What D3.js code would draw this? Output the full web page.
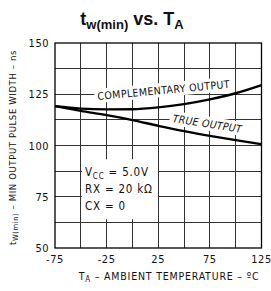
<!DOCTYPE html>
<html>
<head>
<meta charset="utf-8">
<script src="https://cdn.jsdelivr.net/npm/d3@7"></script>
<style>
  body { margin: 0; background: #fff; }
  text { font-family: "Liberation Sans Narrow", "DejaVu Sans Condensed", "Liberation Sans", Arial, sans-serif; fill: #111; }
  .title text, text.title { font-family: "Liberation Sans", Arial, sans-serif; font-weight: bold; }
</style>
</head>
<body>
<div class="chart"></div>
<script>
// tw(min) vs. TA

var temps = [-75, -50, -25, 0, 25, 50, 75, 100, 125];
var complementary = [119.2, 118.0, 117.6, 117.7, 118.6, 120.2, 122.5, 125.5, 129.5];
var trueOutput = [119.2, 116.9, 114.8, 112.4, 109.6, 107.0, 104.7, 102.6, 100.6];

var xTickLabels = [-75, -25, 25, 75, 125];
var yTickLabels = [150, 125, 100, 75, 50];
var xGrid = [-50, -25, 0, 25, 50, 75, 100];
var yGrid = [137.5, 125, 112.5, 100, 87.5, 75, 62.5];

var conditions = ["V|CC| = 5.0V", "RX = 20 k\u03A9", "CX = 0"];

var svgWidth = 271;
var svgHeight = 291;

var margin = { top: 43, bottom: 43, right: 9.5, left: 55 };
var width = svgWidth - margin.left - margin.right;
var height = svgHeight - margin.top - margin.bottom;

var svg = d3.select(".chart")
  .append("svg")
  .attr("width", svgWidth)
  .attr("height", svgHeight);

var chartGroup = svg.append("g")
  .attr("transform", `translate(${margin.left}, ${margin.top})`);

var xLinearScale = d3.scaleLinear().domain([-75, 125]).range([0, width]);
var yLinearScale = d3.scaleLinear().domain([50, 150]).range([height, 0]);

// grid
chartGroup.selectAll(".vgrid")
  .data(xGrid)
  .enter()
  .append("line")
  .attr("x1", d => xLinearScale(d))
  .attr("x2", d => xLinearScale(d))
  .attr("y1", 0)
  .attr("y2", height)
  .attr("stroke", "#333")
  .attr("shape-rendering", "crispEdges")
  .attr("stroke-width", 1);

chartGroup.selectAll(".hgrid")
  .data(yGrid)
  .enter()
  .append("line")
  .attr("y1", d => yLinearScale(d))
  .attr("y2", d => yLinearScale(d))
  .attr("x1", 0)
  .attr("x2", width)
  .attr("stroke", "#333")
  .attr("shape-rendering", "crispEdges")
  .attr("stroke-width", 1);

// frame
chartGroup.append("rect")
  .attr("width", width)
  .attr("height", height)
  .attr("fill", "none")
  .attr("stroke", "#000")
  .attr("stroke-width", 1.3);

// text with white background
function boxedText(g, pad) {
  var bb = g.node().getBBox();
  g.insert("rect", ":first-child")
    .attr("x", bb.x - pad)
    .attr("y", bb.y - 1)
    .attr("width", bb.width + pad * 2)
    .attr("height", bb.height + 2)
    .attr("fill", "#fff");
}

// curves
var line = d3.line()
  .x((d, i) => xLinearScale(temps[i]))
  .y(d => yLinearScale(d))
  .curve(d3.curveMonotoneX);

// curve labels
var compLabel = chartGroup.append("g")
  .attr("transform", `translate(${xLinearScale(-33.5)}, ${yLinearScale(122.2)}) rotate(-5.3)`);
compLabel.append("text")
  .attr("font-size", "10.5px")
  .attr("letter-spacing", "0.4px")
  .text("COMPLEMENTARY OUTPUT");
boxedText(compLabel, 3);

var trueLabel = chartGroup.append("g")
  .attr("transform", `translate(${xLinearScale(38.5)}, ${yLinearScale(111.5)}) rotate(9)`);
trueLabel.append("text")
  .attr("font-size", "10.5px")
  .attr("font-style", "italic")
  .attr("letter-spacing", "0.3px")
  .text("TRUE OUTPUT");
boxedText(trueLabel, 3);

chartGroup.append("path")
  .attr("d", line(complementary))
  .attr("fill", "none")
  .attr("stroke", "#000")
  .attr("stroke-width", 2.4);

chartGroup.append("path")
  .attr("d", line(trueOutput))
  .attr("fill", "none")
  .attr("stroke", "#000")
  .attr("stroke-width", 2.4);

// test conditions
var condGroup = chartGroup.append("g")
  .attr("transform", `translate(${xLinearScale(-46)}, ${yLinearScale(85)})`);

conditions.forEach(function(c, i) {
  var parts = c.split("|");
  var t = condGroup.append("text")
    .attr("y", i * 17)
    .attr("font-size", "11.5px")
    .attr("letter-spacing", "0.8px");
  t.append("tspan").text(parts[0]);
  if (parts.length > 1) {
    t.append("tspan").attr("font-size", "8px").attr("dy", 3).text(parts[1]);
    t.append("tspan").attr("dy", -3).text(parts[2]);
  }
});
var cb = condGroup.node().getBBox();
condGroup.insert("rect", ":first-child")
  .attr("x", cb.x - 3)
  .attr("y", cb.y - 6)
  .attr("width", cb.width + 8)
  .attr("height", cb.height + 12)
  .attr("fill", "#fff");

// tick labels
chartGroup.selectAll(".ylab")
  .data(yTickLabels)
  .enter()
  .append("text")
  .attr("x", -6)
  .attr("y", d => yLinearScale(d) + 4)
  .attr("text-anchor", "end")
  .attr("font-size", "11px")
  .attr("letter-spacing", "0.5px")
  .text(d => d);

chartGroup.selectAll(".xlab")
  .data(xTickLabels)
  .enter()
  .append("text")
  .attr("x", d => xLinearScale(d))
  .attr("y", height + 15)
  .attr("text-anchor", "middle")
  .attr("font-size", "11px")
  .attr("letter-spacing", "0.6px")
  .text(d => (d < 0 ? "-" + Math.abs(d) : d));

// axis titles
var yTitle = svg.append("text")
  .attr("transform", `translate(16, ${margin.top + height / 2 + 2}) rotate(-90)`)
  .attr("text-anchor", "middle")
  .attr("font-size", "9.5px")
  .attr("letter-spacing", "0.6px");
yTitle.append("tspan").text("t");
yTitle.append("tspan").attr("font-size", "7.5px").attr("dy", 2).text("W(min)");
yTitle.append("tspan").attr("dy", -2).text(" \u2013 MIN OUTPUT PULSE WIDTH \u2013 ns");

var xTitle = svg.append("text")
  .attr("x", 169)
  .attr("y", 280)
  .attr("text-anchor", "middle")
  .attr("font-size", "10.5px")
  .attr("letter-spacing", "0.8px");
xTitle.append("tspan").text("T");
xTitle.append("tspan").attr("font-size", "8px").attr("dy", 2).text("A");
xTitle.append("tspan").attr("dy", -2).text(" \u2013 AMBIENT TEMPERATURE \u2013 \u00BAC");

// title
var title = svg.append("text")
  .attr("class", "title")
  .attr("x", 132)
  .attr("y", 25)
  .attr("text-anchor", "middle")
  .attr("font-size", "18px");
title.append("tspan").text("t");
title.append("tspan").attr("font-size", "13px").attr("dy", 4).text("w(min)");
title.append("tspan").attr("dy", -4).text(" vs. T");
title.append("tspan").attr("font-size", "13px").attr("dy", 4).text("A");
</script>
</body>
</html>
